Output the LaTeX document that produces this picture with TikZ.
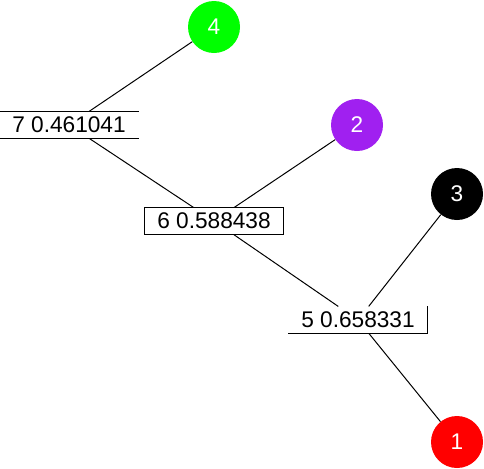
\documentclass[tikz,border=0pt]{standalone}
\usepackage{fontspec}
\setmainfont{Liberation Sans}
\usepackage{tikz}
\usetikzlibrary{positioning}
\definecolor{leafgreen}{RGB}{0, 255, 0}
\definecolor{leafpurple}{RGB}{160, 32, 240}
\definecolor{leafred}{RGB}{255, 0, 0}
\tikzset{
    leaf/.style={circle, minimum size=39pt, inner sep=0pt, text=white, font=\fontsize{17}{20}\selectfont},
    joinbox/.style={rectangle, fill=white, minimum width=104pt, minimum height=20pt, inner sep=0pt, font=\fontsize{17}{20}\selectfont},
    branch/.style={draw, black, line width=0.75pt}
}
\begin{document}
\begin{tikzpicture}[x=0.75pt, y=-0.75pt]
    \useasboundingbox (0,0) rectangle (484,468);
    \clip (0,0) rectangle (484,468);

    % Leaves
    \node[leaf, fill=leafgreen] (n4) at (214,27) {4};
    \node[leaf, fill=leafpurple] (n2) at (357,125) {2};
    \node[leaf, fill=black] (n3) at (457,194) {3};
    \node[leaf, fill=leafred] (n1) at (457,442) {1};

    % Joins
    \node[joinbox] (n7) at (69,125) {7 0.461041};
    \node[joinbox] (n6) at (214,221) {6 0.588438};
    \node[joinbox] (n5) at (358,320) {5 0.658331};

    % Box borders
    \draw[branch] (n7.north west) -- (n7.north east);
    \draw[branch] (n7.south west) -- (n7.south east);
    \draw[branch] (n6.north west) rectangle (n6.south east);
    \draw[branch] (n5.north east) -- (n5.south east) -- (n5.south west);

    % Branches
    \draw[branch] (n4) -- (n7);
    \draw[branch] (n7) -- (n6);
    \draw[branch] (n2) -- (n6);
    \draw[branch] (n6) -- (n5);
    \draw[branch] (n3) -- (n5);
    \draw[branch] (n5) -- (n1);
\end{tikzpicture}
\end{document}
